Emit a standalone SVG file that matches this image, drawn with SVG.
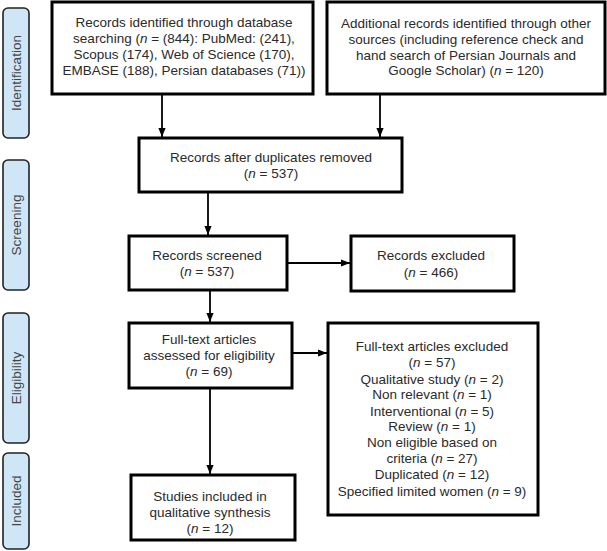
<svg xmlns="http://www.w3.org/2000/svg" width="607" height="551" viewBox="0 0 607 551">
<defs>
<marker id="ah" viewBox="0 0 10 10" refX="10" refY="5" markerWidth="9" markerHeight="9" markerUnits="userSpaceOnUse" orient="auto">
<path d="M0,1 L10,5 L0,9 z" fill="#000"/>
</marker>
<style>
.box{fill:#fff;stroke:#000;stroke-width:3}
.side{fill:#cfe6f7;stroke:#222;stroke-width:1.6}
.t{font-family:"Liberation Sans",Arial,sans-serif;font-size:13.5px;fill:#2a2a2a;text-anchor:middle}
.s{font-family:"Liberation Sans",Arial,sans-serif;font-size:13.5px;fill:#444;text-anchor:middle}
.c{stroke:#000;stroke-width:1.8;fill:none;marker-end:url(#ah)}
</style>
</defs>
<rect width="607" height="551" fill="#fff"/>
<g id="phase-identification"><rect class="side" x="3" y="8" width="26" height="130" rx="5"/><text class="s" transform="translate(21,73) rotate(-90)">Identification</text></g>
<g id="phase-screening"><rect class="side" x="3" y="160" width="26" height="130" rx="5"/><text class="s" transform="translate(21,225) rotate(-90)">Screening</text></g>
<g id="phase-eligibility"><rect class="side" x="3" y="313" width="26" height="130" rx="5"/><text class="s" transform="translate(21,378) rotate(-90)">Eligibility</text></g>
<g id="phase-included"><rect class="side" x="3" y="453" width="26" height="96" rx="5"/><text class="s" transform="translate(21,501) rotate(-90)">Included</text></g>
<g id="connectors">
<line class="c" x1="162" y1="94" x2="162" y2="137"/>
<line class="c" x1="380" y1="94" x2="380" y2="137"/>
<line class="c" x1="208" y1="192" x2="208" y2="235"/>
<line class="c" x1="287" y1="263" x2="350" y2="263"/>
<line class="c" x1="210" y1="290" x2="210" y2="322"/>
<line class="c" x1="292" y1="353" x2="327" y2="353"/>
<line class="c" x1="210" y1="388" x2="210" y2="474"/>
</g>
<g id="n1"><rect class="box" x="52" y="2" width="261" height="92"/>
<text class="t" x="184" y="27">Records identified through database</text>
<text class="t" x="184" y="43">searching (<tspan font-style="italic">n</tspan> = (844): PubMed: (241),</text>
<text class="t" x="184" y="59">Scopus (174), Web of Science (170),</text>
<text class="t" x="184" y="75">EMBASE (188), Persian databases (71))</text></g>
<g id="n2"><rect class="box" x="327" y="2" width="278" height="92"/>
<text class="t" x="466" y="28">Additional records identified through other</text>
<text class="t" x="466" y="44">sources (including reference check and</text>
<text class="t" x="466" y="60">hand search of Persian Journals and</text>
<text class="t" x="466" y="75">Google Scholar) (<tspan font-style="italic">n</tspan> = 120)</text></g>
<g id="n3"><rect class="box" x="139" y="138" width="263" height="54"/>
<text class="t" x="271" y="162">Records after duplicates removed</text>
<text class="t" x="271" y="178">(<tspan font-style="italic">n</tspan> = 537)</text></g>
<g id="n4"><rect class="box" x="129" y="236" width="158" height="54"/>
<text class="t" x="207" y="260">Records screened</text>
<text class="t" x="207" y="276">(<tspan font-style="italic">n</tspan> = 537)</text></g>
<g id="n5"><rect class="box" x="351" y="236" width="163" height="55"/>
<text class="t" x="431" y="260">Records excluded</text>
<text class="t" x="431" y="277">(<tspan font-style="italic">n</tspan> = 466)</text></g>
<g id="n6"><rect class="box" x="129" y="323" width="163" height="65"/>
<text class="t" x="209" y="344">Full-text articles</text>
<text class="t" x="209" y="360">assessed for eligibility</text>
<text class="t" x="209" y="376">(<tspan font-style="italic">n</tspan> = 69)</text></g>
<g id="n7"><rect class="box" x="328" y="323" width="210" height="192"/>
<text class="t" x="432" y="351">Full-text articles excluded</text>
<text class="t" x="432" y="367">(<tspan font-style="italic">n</tspan> = 57)</text>
<text class="t" x="432" y="384">Qualitative study (<tspan font-style="italic">n</tspan> = 2)</text>
<text class="t" x="432" y="399">Non relevant (<tspan font-style="italic">n</tspan> = 1)</text>
<text class="t" x="432" y="416">Interventional (<tspan font-style="italic">n</tspan> = 5)</text>
<text class="t" x="432" y="431">Review (<tspan font-style="italic">n</tspan> = 1)</text>
<text class="t" x="432" y="447">Non eligible based on</text>
<text class="t" x="432" y="463">criteria (<tspan font-style="italic">n</tspan> = 27)</text>
<text class="t" x="432" y="479">Duplicated (<tspan font-style="italic">n</tspan> = 12)</text>
<text class="t" x="432" y="496">Specified limited women (<tspan font-style="italic">n</tspan> = 9)</text></g>
<g id="n8"><rect class="box" x="131" y="475" width="164" height="65"/>
<text class="t" x="210" y="501">Studies included in</text>
<text class="t" x="210" y="517">qualitative synthesis</text>
<text class="t" x="210" y="533">(<tspan font-style="italic">n</tspan> = 12)</text></g>
</svg>
